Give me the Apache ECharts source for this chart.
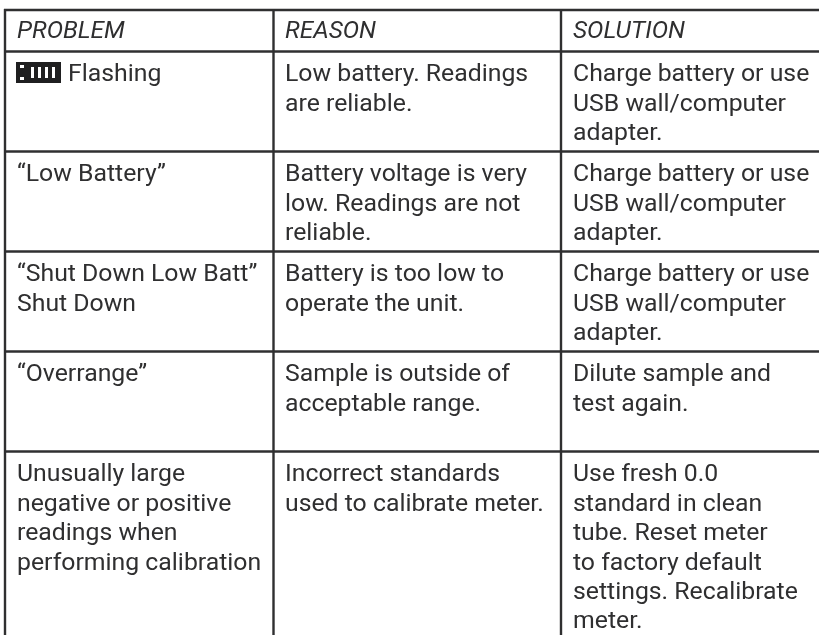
<!DOCTYPE html>
<html>
<head>
<meta charset="utf-8">
<style>
  html, body { margin: 0; padding: 0; background: #fff; }
  #main { width: 819px; height: 635px; }
</style>
<script src="https://cdn.jsdelivr.net/npm/echarts@6/dist/echarts.min.js"></script>
</head>
<body>
<div id="main"></div>
<script>
var headers = ['PROBLEM', 'REASON', 'SOLUTION'];
var problems = [
  'Flashing',
  '\u201CLow Battery\u201D',
  '\u201CShut Down Low Batt\u201D\nShut Down',
  '\u201COverrange\u201D',
  'Unusually large\nnegative or positive\nreadings when\nperforming calibration'
];
var reasons = [
  'Low battery. Readings\nare reliable.',
  'Battery voltage is very\nlow. Readings are not\nreliable.',
  'Battery is too low to\noperate the unit.',
  'Sample is outside of\nacceptable range.',
  'Incorrect standards\nused to calibrate meter.'
];
var solutions = [
  'Charge battery or use\nUSB wall/computer\nadapter.',
  'Charge battery or use\nUSB wall/computer\nadapter.',
  'Charge battery or use\nUSB wall/computer\nadapter.',
  'Dilute sample and\ntest again.',
  'Use fresh 0.0\nstandard in clean\ntube. Reset meter\nto factory default\nsettings. Recalibrate\nmeter.'
];
var colX = [5, 273.5, 561];
var rowY = [10, 51.5, 151.5, 251.5, 351.5, 451.5];
var ink = '#2f2f30';
var fontName = 'Roboto, sans-serif';

var elements = [];
rowY.forEach(function (y) {
  elements.push({ type: 'line', shape: { x1: 4, y1: y, x2: 819, y2: y }, style: { stroke: ink, lineWidth: 2.4 } });
});
colX.forEach(function (x) {
  elements.push({ type: 'line', shape: { x1: x, y1: 9, x2: x, y2: 635 }, style: { stroke: ink, lineWidth: 2.4 } });
});
var textX = [17, 285, 573];
headers.forEach(function (h, i) {
  elements.push({ type: 'text', style: { x: textX[i], y: 17.5, text: h, fill: ink, font: 'italic 400 24.5px ' + fontName, lineHeight: 29 } });
});
[problems, reasons, solutions].forEach(function (col, c) {
  col.forEach(function (t, r) {
    var x = textX[c];
    if (c === 0 && r === 0) x = 68; // leaves room for the battery icon
    elements.push({ type: 'text', style: { x: x, y: rowY[r + 1] + 9, text: t, fill: ink, font: '400 24.8px ' + fontName, lineHeight: 29.4 } });
  });
});
// battery icon in the first row
elements.push({ type: 'rect', shape: { x: 16, y: 62, width: 45, height: 21 }, style: { fill: '#1f1f20' } });
[31, 38, 45, 52].forEach(function (x) {
  elements.push({ type: 'rect', shape: { x: x, y: 67, width: 3, height: 11 }, style: { fill: '#fff' } });
});
[65, 77].forEach(function (y) {
  elements.push({ type: 'rect', shape: { x: 20, y: y, width: 4, height: 3 }, style: { fill: '#fff' } });
});

var chart = echarts.init(document.getElementById('main'));
chart.setOption({ backgroundColor: '#fff', animation: false, graphic: { elements: elements } });
</script>
</body>
</html>
